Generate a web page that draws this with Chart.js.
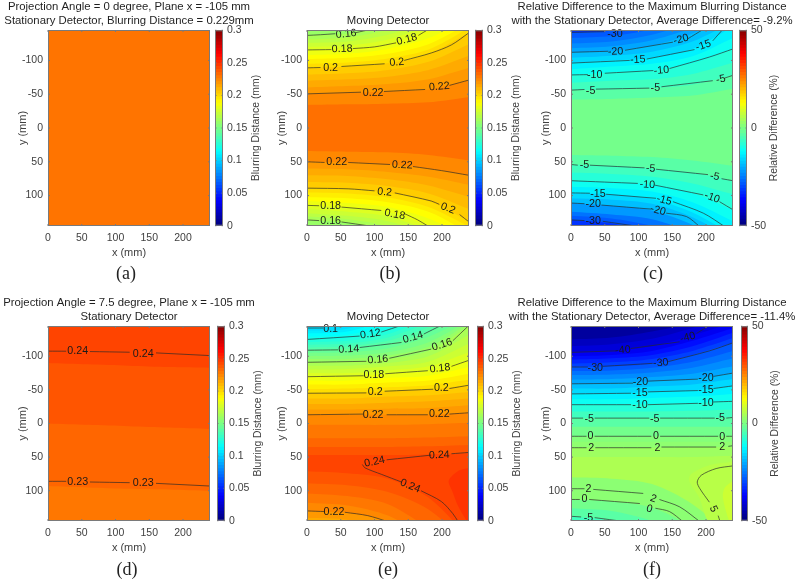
<!DOCTYPE html>
<html>
<head>
<meta charset="utf-8">
<title>Blurring distance</title>
<script src="https://cdn.jsdelivr.net/npm/chart.js@4/dist/chart.umd.min.js"></script>
<style>
  html, body { margin: 0; background: #fff; overflow: hidden; }
  #root { position: relative; width: 800px; height: 582px; overflow: hidden; }
  canvas { position: absolute; filter: blur(0.4px); }
  .cap { position: absolute; font: 18px "Liberation Serif", serif; color: #222; transform: translateX(-50%); }
</style>
</head>
<body>
<div id="root"></div>
<script>
const xTicks = [0, 50, 100, 150, 200];
const yTicks = [-100, -50, 0, 50, 100];
const blurTicks = [0, 0.05, 0.1, 0.15, 0.2, 0.25, 0.3];
const diffTicks = [-50, 0, 50];
const bandXs = [0, 60, 120, 180, 240];

// panel a
const bandValuesA = [0.2285];
const bandEdgesA = [[-150, -150, -150, -150, -150]];
const contoursA = [];
const labelsA = [];

// panel b
const bandValuesB = [0.1575, 0.1625, 0.1675, 0.1725, 0.1775, 0.1825, 0.1875, 0.1925, 0.1975, 0.2025, 0.2075, 0.2125, 0.2175, 0.2225, 0.2295,
  0.2225, 0.2175, 0.2125, 0.2075, 0.2025, 0.1975, 0.1925, 0.1875, 0.1825, 0.1775, 0.1725, 0.1675, 0.1625, 0.1575];
const bandEdgesB = [
  [-150, -150, -150, -150, -150], [-137, -140, -152, -170, -190], [-131, -134, -145, -163, -184],
  [-126, -128, -138, -157, -178], [-120, -122, -131, -151, -174], [-115, -117, -124, -145, -170],
  [-108, -110, -117, -133, -162], [-102, -104, -110, -124, -155], [-95, -97, -103, -116, -148],
  [-89, -91, -96, -110, -141], [-79, -81, -86, -98, -124], [-70, -72, -76, -86, -107],
  [-60, -62, -65, -72, -89], [-50, -52, -54, -57, -71], [-34, -35, -36, -38, -46],
  [34, 35, 36, 40, 48], [50, 51, 54, 60, 70], [60, 61, 65, 72, 84], [70, 71, 76, 85, 102],
  [80, 81, 86, 97, 120], [89, 90, 96, 108, 138], [95, 97, 103, 117, 146], [102, 104, 110, 124, 155],
  [108, 111, 117, 134, 162], [114, 118, 124, 145, 170], [120, 124, 131, 151, 175], [126, 130, 138, 157, 180],
  [131, 135, 145, 163, 185], [136, 140, 152, 170, 190]
];
const contoursB = [
  [[0, -137], [20, -138], [42, -139.5], [42, null], [72, -141], [95, -146]],
  [[0, -115.5], [36, -116], [36, null], [68, -117.5], [100, -120], [132, -126], [132, null], [165, -137], [180, -146]],
  [[0, -89], [20, -89.5], [20, null], [51, -91], [115, -95], [115, null], [144, -100], [184, -111], [214, -123], [240, -141]],
  [[0, -50.5], [80, -53], [80, null], [114, -54], [175, -57], [175, null], [211, -63], [240, -71]],
  [[0, 50], [26, 51], [26, null], [61, 51], [123, 54], [123, null], [157, 57], [199, 63], [240, 70]],
  [[0, 89], [61, 90], [100, 93], [100, null], [130, 96], [184, 108], [196, 113], [196, null], [226, 128], [240, 139]],
  [[0, 114.5], [18, 115], [18, null], [51, 117], [110, 122], [110, null], [145, 127], [164, 136], [179, 145]],
  [[0, 136], [18, 137], [18, null], [51, 139], [93, 145]]
];
const labelsB = [
  [58, -139, "0.16", -5], [52, -117, "0.18", -2], [148, -131, "0.18", -15], [35, -89, "0.2", 0], [133, -97, "0.2", -5],
  [98, -51, "0.22", 0], [196, -61, "0.22", -5], [44, 51, "0.22", 0], [141, 55, "0.22", 3], [115, 95, "0.2", 5],
  [209, 119, "0.2", 22], [35, 116, "0.18", 0], [130, 128, "0.18", 10], [35, 138, "0.16", 0]
];

// panel c
const bandValuesC = [-32.5, -28.75, -26.25, -23.75, -21.25, -18.75, -16.25, -13.75, -11.25, -8.75, -6.25, -3.75, -1.1,
  -3.75, -6.25, -8.75, -11.25, -13.75, -16.25, -18.75, -22.5, -26.25, -28.75, -32.5];
const bandEdgesC = [
  [-150, -150, -150, -150, -150], [-141, -144, -154, -172, -192], [-133, -136, -146, -164, -186],
  [-125, -128, -138, -156, -180], [-118, -121, -130, -148, -172], [-112, -114, -122, -140, -165],
  [-104, -107, -113, -128, -157], [-96, -100, -104, -117, -150], [-87, -91, -95, -106, -133],
  [-78, -82, -85, -96, -117], [-67, -70, -72, -80, -97], [-56, -57, -59, -64, -78], [-42, -43, -45, -48, -58],
  [40, 41, 43, 48, 56], [54, 56, 60, 66, 78], [66, 68, 72, 82, 98], [78, 80, 84, 96, 121], [87, 89, 94, 110, 138],
  [96, 98, 105, 125, 158], [104, 106, 112, 132, 165], [111, 115, 122, 143, 172], [124, 128, 135, 155, 185],
  [130, 134, 145, 165, 190], [136, 141, 155, 175, 195]
];
const contoursC = [
  [[0, -141.5], [50, -142.5], [50, null], [78, -144], [98, -146]],
  [[0, -112], [55, -113.5], [55, null], [80, -115], [151, -127], [151, null], [173, -132], [196, -146]],
  [[0, -96], [87, -100], [87, null], [112, -102], [183, -116], [183, null], [210, -129], [225, -146]],
  [[0, -78.5], [25, -79], [25, null], [50, -81], [122, -85], [122, null], [146, -88], [205, -105], [240, -117]],
  [[0, -56], [20, -57], [20, null], [37, -57.5], [116, -59], [116, null], [134, -61], [210, -70], [210, null], [228, -74], [240, -78]],
  [[0, 54], [10, 55], [10, null], [28, 55], [109, 59], [109, null], [126, 61], [203, 69], [203, null], [223, 75], [240, 78]],
  [[0, 78], [99, 82], [99, null], [124, 84.5], [196, 99], [196, null], [220, 109], [240, 121]],
  [[0, 96], [28, 96.5], [28, null], [52, 98], [126, 104], [126, null], [151, 109], [196, 126], [228, 146]],
  [[0, 111], [20, 112], [20, null], [45, 114], [119, 120], [119, null], [141, 126], [171, 131], [191, 146]],
  [[0, 136], [20, 137], [20, null], [47, 138], [102, 146]]
];
const labelsC = [
  [65, -139, "-30", 0], [66, -113, "-20", -3], [163, -131, "-20", -15], [99, -101, "-15", -3], [196, -122, "-15", -18],
  [35, -78, "-10", 0], [134, -85, "-10", -5], [29, -55, "-5", 0], [125, -59, "-5", 0], [222, -72, "-5", -12],
  [20, 55, "-5", 0], [118, 60, "-5", 3], [213, 72, "-5", 10], [113, 84, "-10", 3], [209, 103, "-10", 20],
  [40, 97, "-15", 0], [138, 107, "-15", 15], [33, 113, "-20", 0], [129, 122, "-20", 15], [33, 137, "-30", 0]
];

// panel d
const bandValuesD = [0.2425, 0.2375, 0.2325, 0.2275];
const bandEdgesD = [[-150, -150, -150, -150, -150], [-90, -88, -86, -84, -83], [0, 2, 4, 6, 8], [93, 95, 97, 98, 100]];
const contoursD = [
  [[0, -107.6], [27, -107.5], [27, null], [62, -107], [121, -106], [121, null], [160, -105], [240, -101]],
  [[0, 86], [27, 86], [27, null], [62, 87], [121, 88], [121, null], [160, 89], [240, 93]]
];
const labelsD = [[44, -107, "0.24", 0], [141, -104, "0.24", 0], [44, 87, "0.23", 0], [141, 89, "0.23", 0]];

// panel e
const bandValuesE = [0.1025, 0.1075, 0.1125, 0.1175, 0.1225, 0.1275, 0.1325, 0.1375, 0.1425, 0.1475, 0.1525, 0.1575, 0.1625, 0.1675, 0.1725,
  0.1775, 0.1825, 0.1875, 0.1925, 0.1975, 0.2025, 0.2075, 0.2125, 0.2175, 0.2225, 0.2275, 0.2325, 0.2375, 0.2425,
  0.2375, 0.2325, 0.2275, 0.2225, 0.2175, 0.2125];
const bandEdgesE = [
  [-150, -150, -150, -150, -150], [-138, -141, -163, -184, -196], [-134, -137, -155, -178, -192], [-129, -132, -147, -171, -188],
  [-125, -127, -139, -165, -185], [-121, -123, -133, -157, -180], [-117, -119, -128, -150, -175], [-113, -115, -123, -143, -170],
  [-109, -111, -118, -136, -165], [-105, -106, -112, -129, -158], [-100, -101, -106, -121, -153], [-96, -96, -101, -114, -149],
  [-91, -92, -96, -108, -145], [-86, -86, -90, -100, -132], [-80, -81, -85, -92, -119], [-75, -75, -79, -85, -106],
  [-70, -70, -74, -78, -94], [-64, -64, -68, -71, -84], [-58, -58, -61, -64, -74], [-51, -52, -54, -57, -65],
  [-45, -45, -48, -51, -57], [-37, -37, -40, -42, -47], [-29, -29, -31, -33, -37], [-21, -21, -22, -23, -27],
  [-13, -13, -13, -13, -16], [2, 2, 2, 1, -1], [22, 22, 22, 21, 19], [35, 35, 35, 34, 32], [47, 47, 47, 46, 44],
  [71, 74, 82, 110, 170], [89, 92, 102, 128, 180], [104, 108, 120, 155, 190], [118, 122, 137, 170, 200], [130, 133, 145, 180, 210],
  [140, 143, 160, 190, 220]
];
const patchValuesE = [0.2475];
const patchShapesE = [[[240, 66], [225, 70], [210, 85], [215, 100], [225, 125], [240, 146], [240, 66]]];
const contoursE = [
  [[0, -142], [24, -142], [24, null], [48, -144], [58, -146]],
  [[0, -125], [78, -130], [78, null], [110, -136], [140, -146]],
  [[0, -109], [46, -109.5], [46, null], [78, -113], [140, -120.5], [140, null], [173, -133], [199, -146]],
  [[0, -91], [88, -92.5], [88, null], [122, -97], [184, -110.6], [184, null], [216, -123], [240, -146]],
  [[0, -69.6], [84, -71], [84, null], [116, -74], [179, -78.5], [179, null], [214, -85], [240, -94]],
  [[0, -45], [88, -45.5], [88, null], [115, -48], [187, -51], [187, null], [211, -52], [240, -57]],
  [[0, -13], [83, -14], [83, null], [118, -13], [179, -13], [179, null], [211, -14], [240, -16]],
  [[240, 43], [214, 45], [214, null], [184, 47], [118, 54], [118, null], [82, 61], [86, 66], [110, 75.5], [140, 87], [140, null], [169, 100], [199, 116], [216, 134], [224, 146]],
  [[0, 130], [26, 131], [26, null], [56, 132], [90, 137], [120, 146]]
];
const labelsE = [
  [35, -141, "0.1", 0], [94, -133, "0.12", -8], [62, -110.5, "0.14", -3], [157, -128, "0.14", -15], [105, -95, "0.16", -5],
  [200, -117, "0.16", -18], [99, -72, "0.18", 0], [197, -82, "0.18", -6], [101, -46.5, "0.2", 0], [199, -52, "0.2", 0],
  [98, -13, "0.22", 0], [196, -14, "0.22", 0], [100, 57, "0.24", -12], [196, 47, "0.24", -2], [153, 93, "0.24", 22], [40, 132, "0.22", 0]
];

// panel f
const bandValuesF = [-47, -43.75, -41.25, -38.75, -36.25, -33.75, -31.25, -28.75, -26.25, -23.75, -21.25, -18.75, -16.25, -13.75, -11.25, -8.75, -6.25, -3.75, -1.25, 0.5, 1.5, 3,
  4.5, 1.2, -1.25, -3.75, -6.25, -8.75];
const bandEdgesF = [
  [-150, -150, -150, -150, -150], [-125, -128, -137, -150, -175], [-115, -118, -126, -142, -162], [-106, -108, -115, -131, -150],
  [-100, -102, -108, -123, -142], [-95, -97, -102, -115, -135], [-89, -91, -96, -108, -127], [-84, -85, -89, -102, -120],
  [-78, -79, -83, -92, -108], [-72, -73, -76, -83, -97], [-65, -66, -69, -74, -85], [-59, -60, -63, -66, -75],
  [-52, -52, -55, -58, -66], [-44, -45, -47, -49, -56], [-36, -36, -38, -40, -44], [-28, -28, -29, -30, -33],
  [-18, -18, -18, -19, -21], [-8, -8, -8, -8, -9], [5, 5, 5, 5, 5], [19, 19, 19, 19, 19], [27, 27, 27, 27, 27], [36, 36, 36, 35, 35],
  [50, 50, 50, 50, 48], [80, 82, 90, 120, 170], [113, 116, 125, 155, 200], [126, 130, 145, 175, 210], [138, 145, 170, 190, 220],
  [146, 155, 180, 200, 230]
];
const patchValuesF = [5.5, 7.5];
const patchShapesF = [
  [[240, 57], [205, 62], [178, 75], [175, 85], [190, 110], [205, 146], [240, 146], [240, 57]],
  [[240, 85], [228, 95], [225, 110], [235, 146], [240, 146], [240, 85]]
];
const contoursF = [
  [[0, -105.7], [67, -108], [67, null], [89, -111.6], [161, -121.5], [161, null], [186, -134], [205, -146]],
  [[0, -84], [25, -84], [25, null], [47, -85], [121, -89.4], [121, null], [144, -92], [205, -108], [240, -120]],
  [[0, -59], [92, -60], [92, null], [114, -63], [188, -66], [188, null], [211, -70], [240, -75]],
  [[0, -44], [89, -45], [89, null], [114, -47], [188, -49], [188, null], [211, -52], [240, -56]],
  [[0, -28], [89, -28], [89, null], [114, -28], [188, -30], [188, null], [211, -32], [240, -33]],
  [[0, -8], [18, -8], [18, null], [35, -8], [116, -8], [116, null], [132, -8], [213, -8], [213, null], [230, -8], [240, -9]],
  [[0, 19], [23, 19], [23, null], [35, 19], [119, 19], [119, null], [132, 19], [218, 19], [218, null], [230, 19], [240, 19]],
  [[0, 36], [23, 36], [23, null], [36, 36], [119, 36], [119, null], [134, 35], [215, 35], [215, null], [233, 34], [240, 33]],
  [[240, 63], [215, 67], [193, 77], [187, 87], [191, 97], [205, 117], [205, null], [218, 137], [221, 146]],
  [[0, 97], [20, 97], [20, null], [33, 98], [107, 104], [107, null], [131, 113], [161, 124], [191, 146]],
  [[0, 113], [13, 113], [13, null], [27, 113], [102, 119], [102, null], [125, 126], [146, 131], [166, 146]],
  [[0, 138], [15, 139], [15, null], [35, 140], [80, 146]]
];
const labelsF = [
  [77, -109, "-40", -5], [173, -128, "-40", -15], [36, -83, "-30", 0], [133, -90, "-30", -5], [103, -61, "-20", 0], [200, -68, "-20", 0],
  [102, -45, "-15", 0], [200, -50, "-15", 0], [102, -28, "-10", 0], [200, -31, "-10", 0], [27, -7, "-5", 0], [124, -7, "-5", 0], [221, -8, "-5", 0],
  [29, 19, "0", 0], [126, 19, "0", 0], [224, 20, "0", 0], [30, 36, "2", 0], [128, 36, "2", 0], [224, 35, "2", 0],
  [211, 127, "5", 65], [26, 97, "2", 0], [122, 112, "2", 20], [20, 113, "0", 0], [116, 127, "0", 15], [26, 140, "-5", 0]
];

function jet(v) {
  const c = (t) => Math.round(255 * Math.max(0, Math.min(1, t)));
  return `rgb(${c(Math.min(4 * v - 1.5, -4 * v + 4.5))},${c(Math.min(4 * v - 0.5, -4 * v + 3.5))},${c(Math.min(4 * v + 0.5, -4 * v + 2.5))})`;
}

const font = "'Liberation Sans', Arial, sans-serif";
const grey = "#404040";
const frame = "#7a7a7a";
const root = document.getElementById("root");
const half = 148;

const blurBar = { min: 0, max: 0.3, ticks: blurTicks, title: "Blurring Distance (mm)", off: 33 };
const diffBar = { min: -50, max: 50, ticks: diffTicks, title: "Relative Difference (%)", off: 27 };

const panels = [
  { cap: "(a)", capX: 126, capY: 263, l: 48, r: 210, t: 30, b: 226, bl: 215, br: 223, bar: blurBar, values: bandValuesA, edges: bandEdgesA, lines: contoursA, labels: labelsA,
    title: ["Projection Angle = 0 degree, Plane x = -105 mm", "Stationary Detector, Blurring Distance = 0.229mm"] },
  { cap: "(b)", capX: 390, capY: 263, l: 307, r: 469, t: 30, b: 226, bl: 475, br: 483, bar: blurBar, values: bandValuesB, edges: bandEdgesB, lines: contoursB, labels: labelsB,
    title: ["", "Moving Detector"] },
  { cap: "(c)", capX: 653, capY: 263, l: 571, r: 733, t: 30, b: 226, bl: 739, br: 747, bar: diffBar, values: bandValuesC, edges: bandEdgesC, lines: contoursC, labels: labelsC,
    title: ["Relative Difference to the Maximum Blurring Distance", "with the Stationary Detector, Average Difference= -9.2%"] },
  { cap: "(d)", capX: 127, capY: 559, l: 48, r: 210, t: 326, b: 521, bl: 217, br: 225, bar: blurBar, values: bandValuesD, edges: bandEdgesD, lines: contoursD, labels: labelsD,
    title: ["Projection Angle = 7.5 degree, Plane x = -105 mm", "Stationary Detector"] },
  { cap: "(e)", capX: 388, capY: 559, l: 307, r: 469, t: 326, b: 521, bl: 477, br: 484, bar: blurBar, values: bandValuesE, edges: bandEdgesE, lines: contoursE, labels: labelsE,
    patchValues: patchValuesE, patchShapes: patchShapesE, title: ["", "Moving Detector"] },
  { cap: "(f)", capX: 652, capY: 559, l: 571, r: 733, t: 326, b: 521, bl: 741, br: 748, bar: diffBar, values: bandValuesF, edges: bandEdgesF, lines: contoursF, labels: labelsF,
    patchValues: patchValuesF, patchShapes: patchShapesF, title: ["Relative Difference to the Maximum Blurring Distance", "with the Stationary Detector, Average Difference= -11.4%"] }
];

function addCanvas(left, top, w, h) {
  const c = document.createElement("canvas");
  c.width = w;
  c.height = h;
  c.style.left = left + "px";
  c.style.top = top + "px";
  c.style.width = w + "px";
  c.style.height = h + "px";
  root.appendChild(c);
  return c;
}

function pts(pairs) {
  return pairs.map((p) => ({ x: p[0], y: p[1] }));
}

// frame and inward ticks on every side
function frameLines(ctx, area, xs, ys, len) {
  ctx.save();
  ctx.strokeStyle = frame;
  ctx.lineWidth = 1;
  ctx.strokeRect(area.left + 0.5, area.top + 0.5, area.right - area.left - 1, area.bottom - area.top - 1);
  ctx.beginPath();
  xs.forEach((x) => {
    ctx.moveTo(x, area.top); ctx.lineTo(x, area.top + len);
    ctx.moveTo(x, area.bottom); ctx.lineTo(x, area.bottom - len);
  });
  ys.forEach((y) => {
    ctx.moveTo(area.left, y); ctx.lineTo(area.left + len, y);
    ctx.moveTo(area.right, y); ctx.lineTo(area.right - len, y);
  });
  ctx.stroke();
  ctx.restore();
}

function drawPanel(p) {
  const { min, max } = p.bar;
  const color = (v) => jet((v - min) / (max - min));
  const datasets = [];
  let order = 2000;
  p.edges.forEach((row, i) => {
    datasets.push({
      data: bandXs.map((x, j) => ({ x, y: row[j] })),
      backgroundColor: color(p.values[i]),
      fill: "start",
      borderWidth: 0,
      order: order--,
      tension: 0.3
    });
  });
  (p.patchShapes || []).forEach((shape, i) => {
    datasets.push({
      data: pts(shape),
      backgroundColor: color(p.patchValues[i]),
      fill: "shape",
      borderWidth: 0,
      order: order--,
      tension: 0.3
    });
  });
  p.lines.forEach((line) => {
    datasets.push({
      data: pts(line),
      borderColor: "rgba(40,40,40,0.75)",
      borderWidth: 0.9,
      fill: false,
      order: 0,
      tension: 0.3
    });
  });

  const canvasLeft = Math.round((p.l + p.r) / 2 - half);
  const canvasRight = canvasLeft + half * 2;
  const contourText = {
    id: "contourText",
    afterDatasetsDraw(chart) {
      const ctx = chart.ctx;
      ctx.save();
      ctx.font = "10.7px " + font;
      ctx.fillStyle = "#1a1a1a";
      ctx.textAlign = "center";
      ctx.textBaseline = "middle";
      p.labels.forEach(([x, y, text, rot]) => {
        ctx.save();
        ctx.translate(chart.scales.x.getPixelForValue(x), chart.scales.y.getPixelForValue(y));
        ctx.rotate((rot * Math.PI) / 180);
        ctx.fillText(text, 0, 0);
        ctx.restore();
      });
      ctx.restore();
    }
  };
  const box = {
    id: "box",
    afterDraw(chart) {
      const sx = chart.scales.x, sy = chart.scales.y;
      frameLines(chart.ctx, chart.chartArea,
        sx.ticks.map((t) => sx.getPixelForValue(t.value)),
        sy.ticks.map((t) => sy.getPixelForValue(t.value)), 2);
    }
  };

  new Chart(addCanvas(canvasLeft, p.t - 30, half * 2, p.b - p.t + 30 + 45), {
    type: "scatter",
    data: { datasets },
    plugins: [contourText, box],
    options: {
      responsive: false,
      animation: false,
      showLine: true,
      pointRadius: 0,
      elements: { point: { radius: 0 } },
      layout: { padding: 0 },
      plugins: {
        legend: { display: false },
        tooltip: { enabled: false },
        title: {
          display: true,
          text: p.title,
          color: "#1f1f1f",
          font: { family: font, size: 11.35, weight: "normal", lineHeight: 14 / 11.35 },
          padding: { top: 0, bottom: 2 }
        }
      },
      scales: {
        x: {
          type: "linear",
          min: 0,
          max: 240,
          grid: { display: false, drawTicks: false },
          border: { display: false },
          afterBuildTicks: (s) => { s.ticks = xTicks.map((value) => ({ value })); },
          afterFit: (s) => { s.height = 45; },
          ticks: { color: grey, font: { family: font, size: 10.5 }, padding: 6, maxRotation: 0, autoSkip: false },
          title: { display: true, text: "x (mm)", color: grey, font: { family: font, size: 11, lineHeight: 14 / 11 }, padding: { top: 0, bottom: 11 } }
        },
        y: {
          type: "linear",
          reverse: true,
          min: -145,
          max: 145,
          grid: { display: false, drawTicks: false },
          border: { display: false },
          afterBuildTicks: (s) => { s.ticks = yTicks.map((value) => ({ value })); },
          afterFit: (s) => { s.width = p.l - canvasLeft; },
          ticks: { color: grey, font: { family: font, size: 10.5 }, padding: 5, autoSkip: false },
          title: { display: true, text: "y (mm)", color: grey, font: { family: font, size: 11, lineHeight: 14 / 11 }, padding: { top: p.l - canvasLeft - 32, bottom: 0 } }
        },
        // empty axis keeps the plot centred under the title
        spacer: {
          type: "linear",
          position: "right",
          grid: { display: false, drawTicks: false },
          border: { display: false },
          ticks: { display: false },
          afterFit: (s) => { s.width = canvasRight - p.r; }
        }
      }
    }
  });

  // colour bar
  const steps = 64;
  const barSets = [];
  for (let i = 0; i < steps; i++) {
    const lo = min + ((max - min) * i) / steps;
    const hi = min + ((max - min) * (i + 1.2)) / steps;
    barSets.push({
      data: [[lo, Math.min(hi, max)]],
      backgroundColor: jet((i + 0.5) / steps),
      borderWidth: 0,
      barPercentage: 1,
      categoryPercentage: 1,
      grouped: false
    });
  }
  const barTitle = {
    id: "barTitle",
    afterDraw(chart) {
      const sy = chart.scales.y;
      const a = chart.chartArea;
      frameLines(chart.ctx, a, [], sy.ticks.map((t) => sy.getPixelForValue(t.value)), 1.5);
      const ctx = chart.ctx;
      ctx.save();
      ctx.font = "10.4px " + font;
      ctx.fillStyle = grey;
      ctx.textAlign = "center";
      ctx.textBaseline = "middle";
      ctx.translate(a.right + p.bar.off, (a.top + a.bottom) / 2);
      ctx.rotate(-Math.PI / 2);
      ctx.fillText(p.bar.title, 0, 0);
      ctx.restore();
    }
  };
  new Chart(addCanvas(p.bl, p.t - 10, 60, p.b - p.t + 20), {
    type: "bar",
    data: { labels: [""], datasets: barSets },
    plugins: [barTitle],
    options: {
      responsive: false,
      animation: false,
      layout: { padding: { top: 10, bottom: 10, left: 0, right: 0 } },
      plugins: { legend: { display: false }, tooltip: { enabled: false } },
      scales: {
        x: { display: false },
        y: {
          position: "right",
          min,
          max,
          grid: { display: false, drawTicks: false },
          border: { display: false },
          afterBuildTicks: (s) => { s.ticks = p.bar.ticks.map((value) => ({ value })); },
          afterFit: (s) => { s.width = 60 - (p.br - p.bl); },
          ticks: { color: grey, font: { family: font, size: 10.5 }, padding: 4, autoSkip: false, callback: (v) => String(v) }
        }
      }
    }
  });

  const cap = document.createElement("div");
  cap.className = "cap";
  cap.textContent = p.cap;
  cap.style.left = p.capX + "px";
  cap.style.top = p.capY + "px";
  root.appendChild(cap);
}

panels.forEach(drawPanel);
</script>
</body>
</html>
